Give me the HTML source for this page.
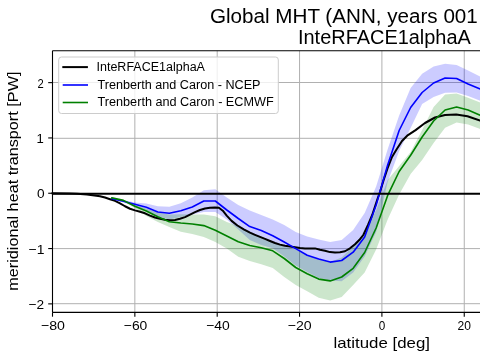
<!DOCTYPE html>
<html><head><meta charset="utf-8"><style>
html,body{margin:0;padding:0;background:#fff;width:480px;height:360px;overflow:hidden}
svg{display:block}
text{font-family:"Liberation Sans",sans-serif;fill:#000}
</style></head><body>
<svg width="480" height="360" viewBox="0 0 480 360">
<rect width="480" height="360" fill="#fff"/>
<g stroke="#b0b0b0" stroke-width="1" fill="none"><line x1="52.50" y1="50.8" x2="52.50" y2="312.4"/><line x1="134.85" y1="50.8" x2="134.85" y2="312.4"/><line x1="217.20" y1="50.8" x2="217.20" y2="312.4"/><line x1="299.55" y1="50.8" x2="299.55" y2="312.4"/><line x1="381.90" y1="50.8" x2="381.90" y2="312.4"/><line x1="464.25" y1="50.8" x2="464.25" y2="312.4"/><line x1="52.5" y1="303.70" x2="480" y2="303.70"/><line x1="52.5" y1="248.60" x2="480" y2="248.60"/><line x1="52.5" y1="193.50" x2="480" y2="193.50"/><line x1="52.5" y1="138.30" x2="480" y2="138.30"/><line x1="52.5" y1="82.50" x2="480" y2="82.50"/></g>
<polygon points="111.87,198.30 123.36,200.00 134.85,202.50 146.34,203.60 157.83,206.30 169.32,206.70 180.80,203.30 192.29,197.50 203.82,190.30 215.31,189.30 226.80,197.50 238.28,205.00 249.77,210.60 261.26,215.00 272.75,219.40 284.24,225.00 295.73,232.00 307.21,236.40 318.70,239.50 330.19,242.00 341.68,240.00 353.17,230.00 364.66,213.00 376.14,186.50 387.67,149.30 399.16,115.50 410.64,88.00 422.13,73.75 433.62,66.50 445.11,63.75 456.60,65.00 468.09,70.50 479.57,76.25 491.06,82.00 491.06,105.00 479.57,100.50 468.09,96.00 456.60,92.50 445.11,92.80 433.62,97.00 422.13,104.00 410.64,128.00 399.16,151.00 387.67,182.00 376.14,232.00 364.66,256.50 353.17,272.50 341.68,281.25 330.19,280.60 318.70,278.00 307.21,272.00 295.73,265.50 284.24,256.50 272.75,248.30 261.26,245.00 249.77,240.00 238.28,229.50 226.80,219.50 215.31,212.00 203.82,212.00 192.29,214.50 180.80,217.10 169.32,219.60 157.83,216.70 146.34,211.00 134.85,206.00 123.36,202.50 111.87,199.30" fill="#0000ff" fill-opacity="0.2" stroke="none"/>
<polygon points="111.87,197.40 123.36,199.40 134.85,204.80 146.34,208.50 157.83,212.50 169.32,214.60 180.80,214.20 192.29,214.40 203.82,214.60 215.31,216.25 226.80,222.00 238.28,226.00 249.77,232.50 261.26,237.50 272.75,242.00 284.24,246.50 295.73,249.50 307.21,255.00 318.70,259.50 330.19,262.00 341.68,257.50 353.17,246.00 364.66,232.00 376.14,210.00 387.67,180.00 399.16,166.00 410.64,152.00 422.13,130.00 433.62,107.00 445.11,94.50 456.60,93.50 468.09,97.80 479.57,102.30 491.06,107.00 491.06,133.00 479.57,128.75 468.09,124.50 456.60,122.50 445.11,127.70 433.62,143.00 422.13,160.00 410.64,174.00 399.16,194.50 387.67,219.50 376.14,249.50 364.66,272.50 353.17,285.00 341.68,297.00 330.19,300.40 318.70,297.80 307.21,291.25 295.73,285.00 284.24,277.00 272.75,268.00 261.26,264.30 249.77,261.00 238.28,256.80 226.80,248.50 215.31,242.00 203.82,237.00 192.29,234.00 180.80,231.80 169.32,227.00 157.83,222.00 146.34,216.00 134.85,208.00 123.36,201.60 111.87,198.40" fill="#008000" fill-opacity="0.2" stroke="none"/>
<polyline points="52.50,193.30 70.00,193.50 77.00,193.80 87.00,194.50 94.50,195.50 100.00,196.25 105.00,197.50 110.00,199.20 115.00,200.80 120.00,203.30 125.00,206.25 130.00,208.75 135.00,210.40 140.00,211.75 145.00,213.30 150.00,215.60 155.00,217.50 160.00,218.75 165.00,219.80 170.00,220.25 175.00,220.00 180.00,218.75 185.00,217.10 190.00,214.60 195.00,212.10 200.00,210.00 205.00,208.50 210.00,207.70 215.00,207.40 218.90,207.80 222.80,210.70 226.70,215.60 231.60,220.90 237.40,225.50 244.20,229.60 250.00,232.60 255.00,234.80 260.00,236.90 265.00,238.90 270.00,241.00 275.00,243.00 280.00,244.60 285.00,245.80 290.00,246.50 295.00,247.30 300.00,248.00 305.00,248.40 310.00,248.40 315.00,248.40 320.00,249.70 325.00,250.80 330.00,252.10 335.00,252.50 340.00,252.30 345.00,251.25 350.00,248.30 355.00,244.20 360.00,239.20 363.30,235.00 368.00,225.00 372.20,215.00 375.50,205.00 377.80,198.00 380.00,192.00 383.50,180.50 387.50,168.50 392.00,157.00 396.20,150.00 402.00,141.00 407.20,135.70 415.60,130.10 425.00,123.00 435.00,117.50 445.00,115.00 456.25,114.50 467.50,116.25 480.00,120.50 490.00,124.00" fill="none" stroke="#000" stroke-width="2" stroke-linejoin="round" stroke-linecap="square"/>
<polyline points="111.87,198.75 123.36,201.25 134.85,204.20 146.34,207.30 157.83,212.00 169.32,213.20 180.80,210.80 192.29,207.00 203.82,201.00 215.31,201.00 226.80,210.00 238.28,218.50 249.77,226.60 261.26,230.50 272.75,235.70 284.24,242.00 295.73,248.60 307.21,255.20 318.70,259.00 330.19,262.10 341.68,260.50 353.17,252.20 364.66,237.00 376.14,205.00 387.67,165.00 399.16,130.50 410.64,107.50 422.13,92.50 433.62,83.00 445.11,78.00 456.60,78.50 468.09,84.00 479.57,88.75 491.06,94.00" fill="none" stroke="#0000ff" stroke-width="1.6" stroke-linejoin="round" stroke-linecap="square"/>
<polyline points="111.87,197.90 123.36,200.40 134.85,206.25 146.34,211.00 157.83,216.70 169.32,221.70 180.80,223.00 192.29,224.00 203.82,225.60 215.31,230.30 226.80,236.00 238.28,241.80 249.77,245.50 261.26,247.70 272.75,250.80 284.24,258.50 295.73,267.50 307.21,273.75 318.70,279.10 330.19,280.90 341.68,277.00 353.17,268.30 364.66,252.50 376.14,228.00 387.67,195.40 399.16,171.50 410.64,155.30 422.13,137.00 433.62,121.00 445.11,110.00 456.60,107.00 468.09,110.00 479.57,115.00 491.06,120.00" fill="none" stroke="#008000" stroke-width="1.6" stroke-linejoin="round" stroke-linecap="square"/>
<line x1="52.5" y1="193.7" x2="480" y2="193.7" stroke="#000" stroke-width="2"/>
<g stroke="#000" stroke-width="1.1" fill="none">
<line x1="52.5" y1="50.8" x2="52.5" y2="312.4"/>
<line x1="52.5" y1="50.8" x2="480" y2="50.8"/>
<line x1="52.5" y1="312.4" x2="480" y2="312.4"/>
<line x1="52.50" y1="312.4" x2="52.50" y2="316.70"/><line x1="134.85" y1="312.4" x2="134.85" y2="316.70"/><line x1="217.20" y1="312.4" x2="217.20" y2="316.70"/><line x1="299.55" y1="312.4" x2="299.55" y2="316.70"/><line x1="381.90" y1="312.4" x2="381.90" y2="316.70"/><line x1="464.25" y1="312.4" x2="464.25" y2="316.70"/><line x1="48.20" y1="303.87" x2="52.5" y2="303.87"/><line x1="48.20" y1="248.56" x2="52.5" y2="248.56"/><line x1="48.20" y1="193.25" x2="52.5" y2="193.25"/><line x1="48.20" y1="137.94" x2="52.5" y2="137.94"/><line x1="48.20" y1="82.63" x2="52.5" y2="82.63"/>
</g>
<g>
<rect x="58.7" y="57" width="219.6" height="56.5" rx="2.8" ry="2.8" fill="#fff" fill-opacity="0.8" stroke="#cccccc" stroke-width="1"/>
<line x1="62.3" y1="67.1" x2="87.9" y2="67.1" stroke="#000" stroke-width="2"/>
<line x1="62.7" y1="85.0" x2="88.0" y2="85.0" stroke="#0000ff" stroke-width="1.6"/>
<line x1="62.7" y1="102.5" x2="88.0" y2="102.5" stroke="#008000" stroke-width="1.6"/>
</g>
<g style="will-change:transform"><text x="210.00" y="22.60" font-size="19.50" textLength="267.82" lengthAdjust="spacingAndGlyphs">Global MHT (ANN, years 001</text>
<text x="298.00" y="43.60" font-size="19.50" textLength="172.84" lengthAdjust="spacingAndGlyphs">InteRFACE1alphaA</text>
<text x="333.50" y="348.10" font-size="14.30" textLength="96.46" lengthAdjust="spacingAndGlyphs">latitude [deg]</text>
<text transform="translate(18.30,290.80) rotate(-90)" font-size="14.30" textLength="219.27" lengthAdjust="spacingAndGlyphs">meridional heat transport [PW]</text>
<text x="96.50" y="70.60" font-size="12.30" textLength="108.43" lengthAdjust="spacingAndGlyphs">InteRFACE1alphaA</text>
<text x="97.50" y="88.60" font-size="12.30" textLength="163.01" lengthAdjust="spacingAndGlyphs">Trenberth and Caron - NCEP</text>
<text x="97.50" y="105.70" font-size="12.30" textLength="176.21" lengthAdjust="spacingAndGlyphs">Trenberth and Caron - ECMWF</text>
<text x="41.00" y="330.00" font-size="13.00" textLength="24.00" lengthAdjust="spacingAndGlyphs">−80</text>
<text x="123.80" y="330.00" font-size="13.00" textLength="23.54" lengthAdjust="spacingAndGlyphs">−60</text>
<text x="206.20" y="330.00" font-size="13.00" textLength="23.59" lengthAdjust="spacingAndGlyphs">−40</text>
<text x="287.70" y="330.00" font-size="13.00" textLength="23.98" lengthAdjust="spacingAndGlyphs">−20</text>
<text x="378.80" y="330.00" font-size="13.00" textLength="6.52" lengthAdjust="spacingAndGlyphs">0</text>
<text x="457.50" y="330.00" font-size="13.00" textLength="13.40" lengthAdjust="spacingAndGlyphs">20</text>
<text x="28.60" y="308.50" font-size="13.00" textLength="15.60" lengthAdjust="spacingAndGlyphs">−2</text>
<text x="28.60" y="253.75" font-size="13.00" textLength="15.88" lengthAdjust="spacingAndGlyphs">−1</text>
<text x="37.00" y="198.00" font-size="13.00" textLength="7.61" lengthAdjust="spacingAndGlyphs">0</text>
<text x="36.50" y="142.50" font-size="13.00" textLength="7.28" lengthAdjust="spacingAndGlyphs">1</text>
<text x="37.50" y="87.50" font-size="13.00" textLength="6.24" lengthAdjust="spacingAndGlyphs">2</text></g>
</svg>
</body></html>
